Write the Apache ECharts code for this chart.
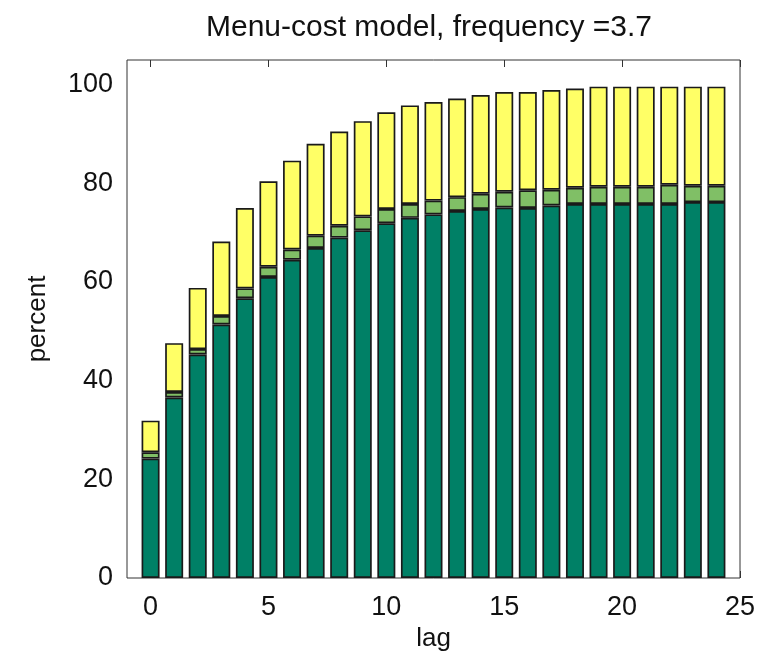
<!DOCTYPE html>
<html>
<head>
<meta charset="utf-8">
<script src="https://cdn.jsdelivr.net/npm/echarts@6/dist/echarts.min.js"></script>
<style>
html,body{margin:0;padding:0;background:#fff;}
#chart{width:774px;height:663px;}
</style>
</head>
<body>
<div id="chart"></div>
<script>
// Data
const lags = [0,1,2,3,4,5,6,7,8,9,10,11,12,13,14,15,16,17,18,19,20,21,22,23,24];
// bottom segment (dark green)
const darkPart = [24.2,36.6,45.3,51.4,56.7,61.0,64.5,66.9,69.0,70.5,71.9,73.0,73.7,74.4,74.8,75.1,75.0,75.5,75.8,75.8,75.8,75.8,75.8,76.2,76.2];
// middle segment (light green)
const midPart = [1.3,1.1,1.1,1.7,2.0,2.1,2.1,2.5,2.4,2.8,2.9,2.8,2.8,2.8,3.1,3.2,3.6,3.2,3.3,3.5,3.5,3.5,3.9,3.3,3.3];
// top segment (yellow)
const topPart = [6.4,9.9,12.4,15.1,16.3,17.3,18.0,18.6,19.1,19.3,19.6,20.0,20.0,20.0,20.0,20.2,19.9,20.2,20.1,20.3,20.3,20.3,19.9,20.1,20.1];
const yTicks = [0,20,40,60,80,100];
const xTicks = [0,5,10,15,20,25];
// x axis span (in lag units) shown by the plot box
const xSpan = [-1,0,1,2,3,4,5,6,7,8,9,10,11,12,13,14,15,16,17,18,19,20,21,22,23,24,25];

const FONT = '"Liberation Sans", Arial, sans-serif';
const chart = echarts.init(document.getElementById('chart'), null, {renderer:'canvas'});

const cats = xSpan.map(String);
function onAxis(vals){
  return xSpan.map(x => { const i = lags.indexOf(x); return i >= 0 ? vals[i] : null; });
}
const colors = ['#008066', '#80BF66', '#FFFF66'];
const parts = [darkPart, midPart, topPart];

const series = parts.map((p, k) => ({
  type: 'bar',
  stack: 'total',
  xAxisIndex: 0,
  yAxisIndex: 0,
  barWidth: 18,
  data: onAxis(p),
  itemStyle: { color: colors[k], borderColor: '#1a1a1a', borderWidth: 1.7 },
  emphasis: { disabled: true },
  animation: false
}));

const tickLine = { color: '#333', width: 1 };
const xTickInterval = (idx, val) => xTicks.includes(Number(val));

chart.setOption({
  backgroundColor: '#fff',
  animation: false,
  title: {
    text: 'Menu-cost model, frequency =3.7',
    left: 424, top: 8, textAlign: 'center',
    textStyle: { fontFamily: FONT, fontSize: 30, fontWeight: 'normal', color: '#111' }
  },
  grid: { left: 127, right: 34, top: 60, bottom: 85, show: true, borderColor: '#333', borderWidth: 1, backgroundColor: 'transparent' },
  xAxis: [{
    type: 'category', data: cats, boundaryGap: false,
    name: 'lag', nameLocation: 'middle', nameGap: 46,
    nameTextStyle: { fontFamily: FONT, fontSize: 26, color: '#111' },
    axisLine: { show: false, onZero: false },
    axisTick: { inside: true, length: 7, lineStyle: tickLine, interval: xTickInterval },
    splitLine: { show: false },
    axisLabel: { fontFamily: FONT, fontSize: 27, color: '#111', margin: 16, interval: xTickInterval }
  }, {
    type: 'category', data: cats, boundaryGap: false, position: 'top',
    axisLine: { show: false, onZero: false },
    axisTick: { inside: true, length: 7, lineStyle: tickLine, interval: xTickInterval },
    splitLine: { show: false },
    axisLabel: { show: false }
  }],
  yAxis: [{
    type: 'value', min: 0, max: 105, interval: 20,
    name: 'percent', nameLocation: 'middle', nameGap: 76,
    nameTextStyle: { fontFamily: FONT, fontSize: 26, color: '#111' },
    axisLine: { show: false, onZero: false },
    axisTick: { inside: true, length: 7, lineStyle: tickLine },
    splitLine: { show: false },
    axisLabel: { fontFamily: FONT, fontSize: 27, color: '#111', margin: 14, showMaxLabel: false,
      formatter: v => yTicks.includes(v) ? String(v) : '' }
  }, {
    type: 'value', min: 0, max: 105, interval: 20, position: 'right',
    axisLine: { show: false, onZero: false },
    axisTick: { inside: true, length: 7, lineStyle: tickLine },
    splitLine: { show: false },
    axisLabel: { show: false }
  }],
  series: series
});
</script>
</body>
</html>
